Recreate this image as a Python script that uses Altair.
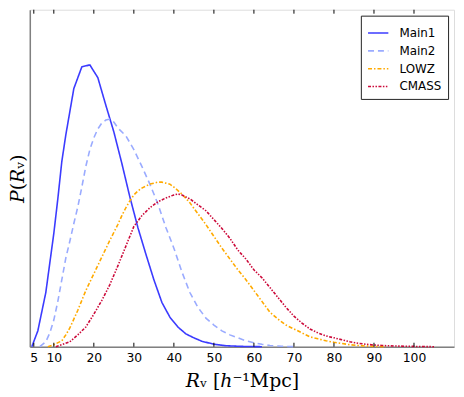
import altair as alt
import pandas as pd

# ---- data (arbitrary density units) ----
main1_x = [4.5, 6, 8, 9, 10, 11, 12, 13, 15, 17, 19, 21, 23, 25, 27, 29, 31, 33, 35, 37, 39, 41, 43, 45, 47, 50, 53, 57, 62]
main1_p = [0, 16, 55, 85, 115, 150, 188, 215, 262, 284, 286, 273, 245, 218, 186, 152, 121, 94, 68, 45, 30, 20, 13, 9, 5.5, 2.5, 1, 0.3, 0]

main2_x = [6.5, 8, 9, 10, 11, 12, 13, 14, 15, 16, 17, 18, 19, 20, 21, 22, 23, 24, 25, 26, 28, 30, 32, 34, 36, 38, 40, 42, 44, 46, 48, 50, 52, 54, 56, 58, 60, 62, 64, 67, 70]
main2_p = [0, 5, 14, 27, 46, 68, 90, 107, 125, 142, 162, 183, 200, 212, 221, 227, 230, 231, 228, 222, 214, 200, 183, 165, 145, 121, 100, 76, 55, 40, 29, 22, 16, 12, 9, 6, 4, 2.5, 1.2, 0.5, 0]

lowz_x = [8.5, 10, 12, 13, 14, 15, 16, 17, 18, 20, 22, 24, 26, 27, 28, 29, 30, 31, 32, 34, 36, 37, 38, 39, 40, 42, 44, 46, 48, 50, 52, 54, 56, 58, 60, 62, 64, 66, 68, 70, 72, 74, 76, 78, 80, 82, 84, 86, 88, 90, 93]
lowz_p = [0, 2, 6, 12, 19, 28, 37, 47, 57, 74, 91, 108, 124, 133, 141, 148, 154, 158, 161, 165, 167, 167, 166, 165, 162, 155, 146, 135, 124, 112, 100, 89, 78, 68, 57, 46, 35, 28, 22, 18, 14, 10, 8, 6, 4.5, 3.2, 2, 1.3, 0.7, 0.3, 0]

cmass_x = [10.5, 12, 14, 16, 18, 20, 22, 24, 26, 28, 30, 32, 34, 36, 38, 40, 41, 42, 44, 46, 48, 50, 52, 54, 56, 58, 60, 62, 64, 66, 68, 70, 72, 74, 76, 78, 80, 82, 84, 86, 88, 90, 92, 95, 100, 105]
cmass_p = [0, 2, 5, 12, 20, 33, 47, 63, 82, 102, 122, 133, 141, 147, 151, 154, 155, 154, 150, 144, 138, 129, 120, 110, 98, 89, 78, 70, 60, 50, 40, 31, 24, 18, 14, 11, 9, 7, 5, 3.5, 2.5, 1.7, 1.2, 0.7, 0.3, 0]

series_names = ["Main1", "Main2", "LOWZ", "CMASS"]
series_colors = ["#3b3bff", "#9aabff", "#ffaa00", "#cc0a3a"]
series_dashes = [[1, 0], [6, 4], [4, 2, 1.5, 2], [3, 1.5, 1.5, 1.5, 1.5, 1.5]]

tick_values = [5, 10, 20, 30, 40, 50, 60, 70, 80, 90, 100]

rows = []
for name, xs, ps in zip(series_names,
                        [main1_x, main2_x, lowz_x, cmass_x],
                        [main1_p, main2_p, lowz_p, cmass_p]):
    for i, (xv, pv) in enumerate(zip(xs, ps)):
        rows.append({"series": name, "R": xv, "P": pv, "i": i})
df = pd.DataFrame(rows)
ticks_df = pd.DataFrame({"t": tick_values})

W, H = 428, 340

xscale = alt.Scale(domain=[4, 110], nice=False, zero=False)
yscale = alt.Scale(domain=[0, 342], nice=False, zero=False)

legend = alt.Legend(
    title=None, orient="top-right", offset=6, padding=6,
    strokeColor="#222222", fillColor="white", cornerRadius=0,
    symbolType="stroke", symbolSize=420, symbolStrokeWidth=1.6,
    labelFont="DejaVu Sans", labelFontSize=12, labelColor="black",
    labelOffset=10, rowPadding=0,
)

lines = alt.Chart(df).mark_line(strokeWidth=1.6).encode(
    x=alt.X("R:Q", scale=xscale,
            axis=alt.Axis(values=tick_values, ticks=False, grid=False,
                          labelFont="DejaVu Sans", labelFontSize=12.5,
                          labelColor="black", labelPadding=5,
                          domainColor="#808080", domainWidth=1.5,
                          title="𝑅ᵥ [ℎ⁻¹Mpc]", titleFont="DejaVu Serif",
                          titleFontSize=19, titleFontWeight="normal",
                          titleColor="black", titlePadding=8)),
    y=alt.Y("P:Q", scale=yscale,
            axis=alt.Axis(labels=False, ticks=False, grid=False,
                          domainColor="#808080", domainWidth=1.5,
                          title="𝑃(𝑅ᵥ)", titleFont="DejaVu Serif",
                          titleFontSize=19, titleFontWeight="normal",
                          titleColor="black", titlePadding=2)),
    color=alt.Color("series:N", scale=alt.Scale(domain=series_names, range=series_colors),
                    legend=legend),
    strokeDash=alt.StrokeDash("series:N", scale=alt.Scale(domain=series_names, range=series_dashes),
                              legend=legend),
    order="i:Q",
    detail="series:N",
)

bottom_ticks = alt.Chart(ticks_df).mark_rule(color="black", strokeWidth=1).encode(
    x=alt.X("t:Q", scale=xscale),
    y=alt.value(H), y2=alt.value(H - 4),
)
top_ticks = alt.Chart(ticks_df).mark_rule(color="black", strokeWidth=1).encode(
    x=alt.X("t:Q", scale=xscale),
    y=alt.value(0), y2=alt.value(4),
)

chart = alt.layer(lines, bottom_ticks, top_ticks).properties(
    width=W, height=H,
    autosize=alt.AutoSizeParams(type="none"),
    padding={"left": 22, "top": 0, "right": 2, "bottom": 46},
).configure_view(stroke="black", strokeWidth=1).configure(background="white")

chart.save("out.html", embed_options={"renderer": "svg", "actions": False})
